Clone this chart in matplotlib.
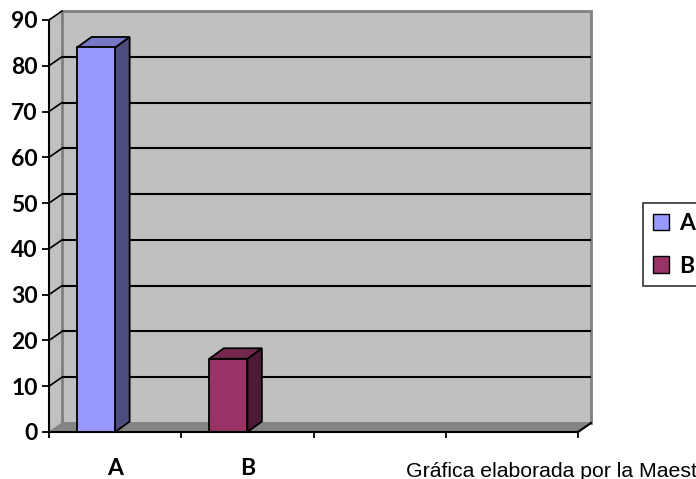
import matplotlib
matplotlib.use("Agg")
import matplotlib.pyplot as plt
from matplotlib.patches import Polygon, Patch
import numpy as np

# Data
categories = ["A", "B"]
values = [84, 16]
legend_labels = ["A", "B"]
bar_colors = ["#9999FF", "#993366"]
side_colors = ["#4D4D80", "#4D1A33"]
top_colors = ["#7777C4", "#74284F"]
n_slots = 4
y_ticks = list(range(0, 100, 10))
y_max = 90
caption = "Gráfica elaborada por la Maestra"

plt.rcParams["font.family"] = ["Lato", "DejaVu Sans"]

W, H = 696, 479
fig = plt.figure(figsize=(W / 100, H / 100), dpi=100)
left, right, bottom, top = 49, 578, 432, 20
ax = fig.add_axes([left / W, 1 - bottom / H, (right - left) / W, (bottom - top) / H])
ax.set_xlim(-0.5, n_slots - 0.5)
ax.set_ylim(0, y_max)
ax.patch.set_visible(False)

# pixel -> data unit conversion for the oblique depth of the 3-D look
ux = n_slots / (right - left)
uy = y_max / (bottom - top)
wdx, wdy = 13 * ux, 9 * uy       # depth of the walls / floor
bdx, bdy = 14.5 * ux, 10.5 * uy  # depth of the columns
x0, x1 = -0.5, n_slots - 0.5

wall_gray = "#C0C0C0"
# side wall
ax.add_patch(Polygon([(x0, 0), (x0 + wdx, wdy), (x0 + wdx, y_max + wdy), (x0, y_max)],
                     closed=True, fc=wall_gray, ec="none", clip_on=False, zorder=0))
# back wall
ax.add_patch(Polygon([(x0 + wdx, wdy), (x1 + wdx, wdy), (x1 + wdx, y_max + wdy), (x0 + wdx, y_max + wdy)],
                     closed=True, fc=wall_gray, ec="#808080", lw=2, clip_on=False, zorder=0.5))
# floor
ax.add_patch(Polygon([(x0, 0), (x1, 0), (x1 + wdx, wdy), (x0 + wdx, wdy)],
                     closed=True, fc="#848484", ec="#848484", lw=0.8, clip_on=False, zorder=1))
ax.plot([x1, x1 + wdx], [0, wdy], color="black", lw=1.5, clip_on=False, zorder=1.2)

# gridlines on the back wall and their diagonals on the side wall
for v in y_ticks[1:-1]:
    ax.plot([x0 + wdx, x1 + wdx], [v + wdy, v + wdy], color="black", lw=1.5,
            clip_on=False, zorder=1.1, solid_capstyle="butt")
for v in y_ticks[1:]:
    ax.plot([x0, x0 + wdx], [v, v + wdy], color="black", lw=1.2, clip_on=False, zorder=1.1)

# columns: front faces from ax.bar, side and top faces from each bar's geometry
bar_w = 0.288
pos = np.arange(len(values)) - bar_w / 2
bars = ax.bar(pos, values, width=bar_w, color=bar_colors, edgecolor="black",
              linewidth=1.3, zorder=3)
for rect, sc, tc in zip(bars, side_colors, top_colors):
    bx, bw, bh = rect.get_x(), rect.get_width(), rect.get_height()
    ax.add_patch(Polygon([(bx + bw, 0), (bx + bw + bdx, bdy), (bx + bw + bdx, bh + bdy), (bx + bw, bh)],
                         closed=True, fc=sc, ec="black", lw=1.3, clip_on=False, zorder=2.9))
    ax.add_patch(Polygon([(bx, bh), (bx + bw, bh), (bx + bw + bdx, bh + bdy), (bx + bdx, bh + bdy)],
                         closed=True, fc=tc, ec="black", lw=1.3, clip_on=False, zorder=2.9))

# axes
for s in ("top", "right"):
    ax.spines[s].set_visible(False)
for s in ("left", "bottom"):
    ax.spines[s].set_linewidth(1.5)
    ax.spines[s].set_color("black")
    ax.spines[s].set_zorder(4)

ax.set_yticks(y_ticks)
ax.set_yticklabels([str(v) for v in y_ticks], fontsize=16.5, fontweight="bold")
ax.tick_params(axis="y", direction="out", length=5, width=1.3, pad=3, colors="black")

ax.set_xticks(np.arange(len(categories)))
ax.set_xticklabels(categories, fontsize=16.5, fontweight="bold")
ax.set_xticks(np.arange(n_slots + 1) - 0.5, minor=True)
ax.tick_params(axis="x", which="major", length=0, pad=19)
ax.tick_params(axis="x", which="minor", direction="out", length=4.5, width=1.3)

# legend
handles = [Patch(fc=c, ec="black", lw=1) for c in bar_colors]
leg = fig.legend(handles, legend_labels, loc="upper left",
                 bbox_to_anchor=(643 / W, 1 - 203 / H), bbox_transform=fig.transFigure,
                 frameon=True, fancybox=False, edgecolor="black", borderaxespad=0,
                 prop={"family": ["Lato", "DejaVu Sans"], "weight": "bold", "size": 16.5},
                 handlelength=0.72, handleheight=0.72, handletextpad=0.42,
                 borderpad=0.43, labelspacing=0.95)
leg.get_frame().set_linewidth(1.2)

fig.text(406 / W, 2 / H, caption, fontsize=15.3, family="Liberation Sans",
         ha="left", va="baseline", color="black")

fig.savefig("out.png", dpi=100)
